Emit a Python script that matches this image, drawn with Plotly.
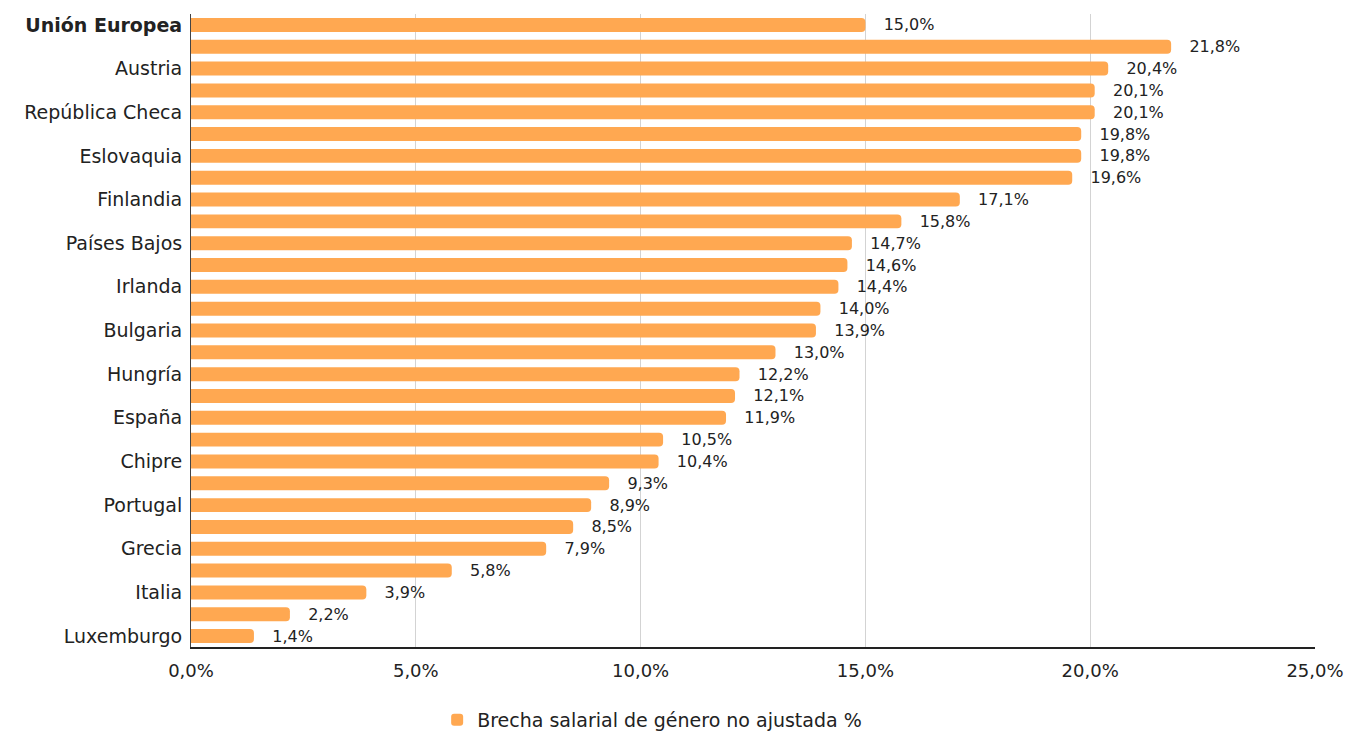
import plotly.graph_objects as go

paises = ["Unión Europea", "Estonia", "Austria", "Alemania", "República Checa", "Reino Unido",
          "Eslovaquia", "Letonia", "Finlandia", "Francia", "Países Bajos", "Dinamarca",
          "Irlanda", "Suecia", "Bulgaria", "Lituania", "Hungría", "Croacia", "España",
          "Malta", "Chipre", "Bélgica", "Portugal", "Polonia", "Grecia", "Eslovenia",
          "Italia", "Rumanía", "Luxemburgo"]
brecha = [15.0, 21.8, 20.4, 20.1, 20.1, 19.8, 19.8, 19.6, 17.1, 15.8, 14.7, 14.6, 14.4, 14.0,
          13.9, 13.0, 12.2, 12.1, 11.9, 10.5, 10.4, 9.3, 8.9, 8.5, 7.9, 5.8, 3.9, 2.2, 1.4]
serie = "Brecha salarial de género no ajustada %"
x_ticks = [0, 5, 10, 15, 20, 25]
x_ticktext = ["0,0%", "5,0%", "10,0%", "15,0%", "20,0%", "25,0%"]

FONT = "DejaVu Sans, Verdana, sans-serif"

shown = paises[::2]
shown_text = ["<b>" + p + "</b>" if p == "Unión Europea" else p for p in shown]

fig = go.Figure()
fig.add_trace(go.Bar(
    y=paises, x=brecha, orientation="h", name=serie,
    marker=dict(color="#FFA851", line=dict(width=0)),
    width=0.64,
    text=["   " + f"{v:.1f}".replace(".", ",") + "%" for v in brecha],
    textposition="outside", cliponaxis=False, constraintext="none",
    textfont=dict(family=FONT, size=16, color="#222222"),
    showlegend=True,
))
fig.update_layout(
    width=1361, height=731,
    margin=dict(l=191, r=46, t=14, b=84, autoexpand=False),
    paper_bgcolor="white", plot_bgcolor="white",
    barcornerradius=4,
    font=dict(family=FONT, color="#222222"),
    xaxis=dict(range=[0, 25], tickvals=x_ticks, ticktext=x_ticktext,
               showgrid=True, gridcolor="#D3D3D3", gridwidth=1, zeroline=False,
               showline=True, linecolor="#222222", linewidth=2,
               tickfont=dict(size=18, color="#222222"), ticks="", ticklabelstandoff=6),
    yaxis=dict(autorange="reversed", tickvals=shown, ticktext=shown_text,
               showline=True, linecolor="#444444", linewidth=1,
               tickfont=dict(size=19, color="#222222"), ticks="", showgrid=False,
               ticklabelstandoff=4),
    legend=dict(orientation="h", x=0.219, xanchor="left", y=-0.1153, yanchor="middle",
                font=dict(size=19, color="#222222")),
)
fig.write_html("out.html")
